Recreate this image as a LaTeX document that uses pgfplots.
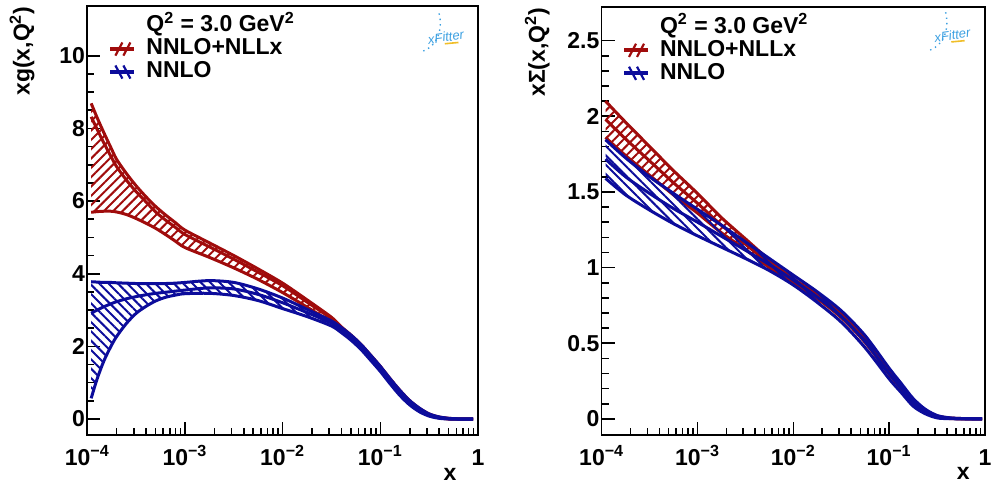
\documentclass[border=0pt]{standalone}
\usepackage{fontspec}
\setmainfont{Liberation Sans}
\usepackage{pgfplots}
\pgfplotsset{compat=1.18}
\usepackage{pgfplotstable}
\usetikzlibrary{patterns.meta}

\definecolor{myred}{RGB}{160,12,12}
\definecolor{myblue}{RGB}{12,12,155}
\definecolor{logoblue}{RGB}{60,160,225}
\definecolor{logoyel}{RGB}{240,190,40}
\newcommand\F{\fontsize{11.5}{11.5}\selectfont\bfseries}

% gluon: x, NNLO+NLLx (up, central, low), NNLO (up, central, low)
\pgfplotstableread{
x ru rc rl bu bc bl
1.096e-4 8.69 8.32 5.69 3.78 2.91 0.57
1.259e-4 8.30 7.98 5.71 3.77 3.00 1.10
1.479e-4 7.88 7.60 5.72 3.76 3.09 1.60
1.738e-4 7.48 7.24 5.72 3.76 3.17 1.99
1.995e-4 7.15 6.95 5.70 3.75 3.23 2.27
2.512e-4 6.76 6.58 5.63 3.74 3.31 2.63
3.162e-4 6.42 6.26 5.52 3.73 3.37 2.91
3.981e-4 6.12 5.98 5.39 3.73 3.42 3.10
5.012e-4 5.85 5.70 5.25 3.73 3.46 3.25
6.310e-4 5.62 5.48 5.08 3.73 3.49 3.35
7.943e-4 5.41 5.28 4.90 3.74 3.52 3.41
1.000e-3 5.20 5.08 4.72 3.76 3.55 3.45
1.778e-3 4.85 4.74 4.45 3.81 3.61 3.46
3.162e-3 4.50 4.40 4.16 3.76 3.58 3.40
5.623e-3 4.13 4.04 3.84 3.58 3.43 3.26
1.000e-2 3.74 3.67 3.48 3.33 3.20 3.04
1.778e-2 3.28 3.22 3.08 3.02 2.93 2.82
3.162e-2 2.80 2.76 2.66 2.70 2.64 2.56
3.981e-2 2.54 2.49 2.44 2.52 2.45 2.38
5.012e-2 2.31 2.26 2.21 2.31 2.24 2.17
6.310e-2 2.06 2.01 1.96 2.06 1.99 1.92
7.943e-2 1.76 1.71 1.66 1.76 1.69 1.62
0.1000 1.45 1.40 1.35 1.45 1.38 1.31
0.1259 1.11 1.06 1.01 1.11 1.04 0.97
0.1585 0.79 0.74 0.69 0.79 0.72 0.65
0.1995 0.51 0.47 0.43 0.51 0.45 0.39
0.2512 0.295 0.265 0.235 0.30 0.25 0.20
0.3162 0.14 0.12 0.10 0.14 0.11 0.08
0.3981 0.055 0.045 0.035 0.06 0.04 0.02
0.5012 0.02 0.01 0.0 0.02 0.01 0.0
0.6310 0.005 0.0 -0.005 0.005 0.0 -0.005
0.7943 0.005 0.0 -0.005 0.005 0.0 -0.005
0.8913 0.005 0.0 -0.005 0.005 0.0 -0.005
}\gtab

% gluon bands as closed outlines (upper edge forward, lower edge back)
\pgfplotstableread{
x y
1.096e-4 8.69
1.259e-4 8.30
1.479e-4 7.88
1.738e-4 7.48
1.995e-4 7.15
2.512e-4 6.76
3.162e-4 6.42
3.981e-4 6.12
5.012e-4 5.85
6.310e-4 5.62
7.943e-4 5.41
1.000e-3 5.20
1.778e-3 4.85
3.162e-3 4.50
5.623e-3 4.13
1.000e-2 3.74
1.778e-2 3.28
3.162e-2 2.80
3.981e-2 2.54
5.012e-2 2.31
6.310e-2 2.06
7.943e-2 1.76
0.1000 1.45
0.1259 1.11
0.1585 0.79
0.1995 0.51
0.2512 0.295
0.3162 0.14
0.3162 0.10
0.2512 0.235
0.1995 0.43
0.1585 0.69
0.1259 1.01
0.1000 1.35
7.943e-2 1.66
6.310e-2 1.96
5.012e-2 2.21
3.981e-2 2.44
3.162e-2 2.66
1.778e-2 3.08
1.000e-2 3.48
5.623e-3 3.84
3.162e-3 4.16
1.778e-3 4.45
1.000e-3 4.72
7.943e-4 4.90
6.310e-4 5.08
5.012e-4 5.25
3.981e-4 5.39
3.162e-4 5.52
2.512e-4 5.63
1.995e-4 5.70
1.738e-4 5.72
1.479e-4 5.72
1.259e-4 5.71
1.096e-4 5.69
}\gredband

\pgfplotstableread{
x y
1.096e-4 3.78
1.259e-4 3.77
1.479e-4 3.76
1.738e-4 3.76
1.995e-4 3.75
2.512e-4 3.74
3.162e-4 3.73
3.981e-4 3.73
5.012e-4 3.73
6.310e-4 3.73
7.943e-4 3.74
1.000e-3 3.76
1.778e-3 3.81
3.162e-3 3.76
5.623e-3 3.58
1.000e-2 3.33
1.778e-2 3.02
3.162e-2 2.70
3.981e-2 2.52
5.012e-2 2.31
6.310e-2 2.06
7.943e-2 1.76
0.1000 1.45
0.1259 1.11
0.1585 0.79
0.1995 0.51
0.2512 0.30
0.3162 0.14
0.3162 0.08
0.2512 0.20
0.1995 0.39
0.1585 0.65
0.1259 0.97
0.1000 1.31
7.943e-2 1.62
6.310e-2 1.92
5.012e-2 2.17
3.981e-2 2.38
3.162e-2 2.56
1.778e-2 2.82
1.000e-2 3.04
5.623e-3 3.26
3.162e-3 3.40
1.778e-3 3.46
1.000e-3 3.45
7.943e-4 3.41
6.310e-4 3.35
5.012e-4 3.25
3.981e-4 3.10
3.162e-4 2.91
2.512e-4 2.63
1.995e-4 2.27
1.738e-4 1.99
1.479e-4 1.60
1.259e-4 1.10
1.096e-4 0.57
}\gblueband

% singlet
\pgfplotstableread{
x ru rc rl bu bc bl
1.096e-4 2.10 1.98 1.86 1.845 1.717 1.59
1.778e-4 1.96 1.85 1.74 1.725 1.60 1.48
3.162e-4 1.80 1.705 1.61 1.60 1.49 1.38
5.623e-4 1.64 1.56 1.48 1.49 1.39 1.29
1.000e-3 1.49 1.425 1.36 1.385 1.30 1.21
1.778e-3 1.33 1.28 1.23 1.28 1.207 1.135
3.162e-3 1.19 1.155 1.12 1.17 1.115 1.06
5.623e-3 1.05 1.025 1.00 1.06 1.02 0.98
1.000e-2 0.925 0.91 0.895 0.95 0.917 0.885
1.778e-2 0.825 0.81 0.795 0.84 0.805 0.77
3.162e-2 0.70 0.685 0.67 0.715 0.677 0.64
5.623e-2 0.535 0.52 0.505 0.55 0.51 0.47
0.1000 0.325 0.31 0.295 0.335 0.30 0.265
0.1334 0.225 0.213 0.20 0.235 0.205 0.175
0.1778 0.125 0.116 0.107 0.135 0.11 0.085
0.2371 0.06 0.054 0.048 0.065 0.05 0.035
0.3162 0.02 0.017 0.014 0.023 0.015 0.007
0.4217 0.007 0.005 0.003 0.008 0.005 0.002
0.5623 0.003 0.002 0.001 0.003 0.002 0.001
0.7943 0.001 0.0 0.0 0.001 0.0 0.0
0.9333 0.001 0.0 0.0 0.001 0.0 0.0
}\stab

\pgfplotstableread{
x y
1.096e-4 2.10
1.778e-4 1.96
3.162e-4 1.80
5.623e-4 1.64
1.000e-3 1.49
1.778e-3 1.33
3.162e-3 1.19
5.623e-3 1.05
1.000e-2 0.925
1.778e-2 0.825
3.162e-2 0.70
5.623e-2 0.535
0.1000 0.325
0.1334 0.225
0.1778 0.125
0.2371 0.06
0.3162 0.02
0.3162 0.014
0.2371 0.048
0.1778 0.107
0.1334 0.20
0.1000 0.295
5.623e-2 0.505
3.162e-2 0.67
1.778e-2 0.795
1.000e-2 0.895
5.623e-3 1.00
3.162e-3 1.12
1.778e-3 1.23
1.000e-3 1.36
5.623e-4 1.48
3.162e-4 1.61
1.778e-4 1.74
1.096e-4 1.86
}\sredband

\pgfplotstableread{
x y
1.096e-4 1.845
1.778e-4 1.725
3.162e-4 1.60
5.623e-4 1.49
1.000e-3 1.385
1.778e-3 1.28
3.162e-3 1.17
5.623e-3 1.06
1.000e-2 0.95
1.778e-2 0.84
3.162e-2 0.715
5.623e-2 0.55
0.1000 0.335
0.1334 0.235
0.1778 0.135
0.2371 0.065
0.3162 0.023
0.3162 0.007
0.2371 0.035
0.1778 0.085
0.1334 0.175
0.1000 0.265
5.623e-2 0.47
3.162e-2 0.64
1.778e-2 0.77
1.000e-2 0.885
5.623e-3 0.98
3.162e-3 1.06
1.778e-3 1.135
1.000e-3 1.21
5.623e-4 1.29
3.162e-4 1.38
1.778e-4 1.48
1.096e-4 1.59
}\sblueband

\pgfplotsset{
  legred/.style={legend image code/.code={
    \draw[myred, line width=2pt] (0pt,0pt) -- (12pt,0pt);
    \draw[myred, line width=1.1pt] (2.5pt,-3.3pt) -- (6pt,3.3pt);
    \draw[myred, line width=1.1pt] (6.5pt,-3.3pt) -- (10pt,3.3pt);}},
  legblue/.style={legend image code/.code={
    \draw[myblue, line width=2pt] (0pt,0pt) -- (12pt,0pt);
    \draw[myblue, line width=1.1pt] (2.5pt,3.3pt) -- (6pt,-3.3pt);
    \draw[myblue, line width=1.1pt] (6.5pt,3.3pt) -- (10pt,-3.3pt);}},
}

\begin{document}
\begin{tikzpicture}

% ---------------- left: gluon ----------------
\begin{axis}[
  at={(43.65pt,24pt)}, anchor=south west, width=195.35pt, height=214.5pt,
  scale only axis, xmode=log, xmin=1e-4, xmax=1,
  xtick={1e-4,1e-3,1e-2,1e-1,1},
  xticklabels={10\textsuperscript{−4},10\textsuperscript{−3},10\textsuperscript{−2},10\textsuperscript{−1},1},
  minor xtick={2e-4,3e-4,4e-4,5e-4,6e-4,7e-4,8e-4,9e-4,2e-3,3e-3,4e-3,5e-3,6e-3,7e-3,8e-3,9e-3,2e-2,3e-2,4e-2,5e-2,6e-2,7e-2,8e-2,9e-2,0.2,0.3,0.4,0.5,0.6,0.7,0.8,0.9},
  tick pos=left, tick align=inside,
  major tick length=6.5pt, minor tick length=3.5pt,
  every tick/.style={black, line width=0.8pt},
  axis line style={line width=0.8pt},
  ticklabel style={font=\F},
  xticklabel style={anchor=base, yshift=-15pt},
  yticklabel style={inner xsep=1pt},
  label style={font=\F},
  xlabel={x},
  legend cell align=left,
  legend style={draw=none, fill=none, font=\F, inner sep=0pt, row sep=0pt,
    nodes={inner xsep=5pt, inner ysep=0pt, text height=8.6pt, text depth=2.9pt}},
  ymin=-0.44, ymax=11.37, ytick={0,2,4,6,8,10}, minor y tick num=3,
  ylabel={xg(x,Q\textsuperscript{2})},
  xlabel style={at={(axis description cs:0.946,-0.1049)}, anchor=base east, inner sep=0pt},
  ylabel style={at={(axis description cs:-0.134,1)}, anchor=south east, inner sep=0pt},
  legend style={at={(axis description cs:0.053,0.981)}, anchor=north west},
  /pgf/number format/assume math mode=true,
]
\addlegendimage{empty legend}\addlegendentry{Q\textsuperscript{2} = 3.0 GeV\textsuperscript{2}}
\addlegendimage{legred}\addlegendentry{NNLO+NLLx}
\addlegendimage{legblue}\addlegendentry{NNLO}

\addplot[draw=none, pattern={Lines[angle=45,distance=3.3pt,line width=1pt]}, pattern color=myred, forget plot] table[x=x,y=y]{\gredband};
\addplot[myred, line width=1.5pt, smooth, forget plot] table[x=x,y=ru]{\gtab};
\addplot[myred, line width=1.5pt, smooth, forget plot] table[x=x,y=rc]{\gtab};
\addplot[myred, line width=1.5pt, smooth, forget plot] table[x=x,y=rl]{\gtab};

\addplot[draw=none, pattern={Lines[angle=-45,distance=3.3pt,line width=1pt]}, pattern color=myblue, forget plot] table[x=x,y=y]{\gblueband};
\addplot[myblue, line width=1.5pt, smooth, forget plot] table[x=x,y=bu]{\gtab};
\addplot[myblue, line width=1.5pt, smooth, forget plot] table[x=x,y=bc]{\gtab};
\addplot[myblue, line width=1.5pt, smooth, forget plot] table[x=x,y=bl]{\gtab};

\node[logoblue, font=\fontsize{6.5}{6.5}\selectfont\itshape, rotate=8, inner sep=0pt] at (axis description cs:0.918,0.928) {xFitter};
\draw[logoyel, line width=0.8pt] (axis description cs:0.915,0.912) -- (axis description cs:0.95,0.915);
\draw[logoblue, dotted, line width=0.7pt] (axis description cs:0.86,0.895) .. controls (axis description cs:0.9,0.91) and (axis description cs:0.91,0.95) .. (axis description cs:0.9,0.985);
\end{axis}

% ---------------- right: singlet ----------------
\begin{axis}[
  at={(300.85pt,24pt)}, anchor=south west, width=191.65pt, height=213.85pt,
  scale only axis, xmode=log, xmin=1e-4, xmax=1,
  xtick={1e-4,1e-3,1e-2,1e-1,1},
  xticklabels={10\textsuperscript{−4},10\textsuperscript{−3},10\textsuperscript{−2},10\textsuperscript{−1},1},
  minor xtick={2e-4,3e-4,4e-4,5e-4,6e-4,7e-4,8e-4,9e-4,2e-3,3e-3,4e-3,5e-3,6e-3,7e-3,8e-3,9e-3,2e-2,3e-2,4e-2,5e-2,6e-2,7e-2,8e-2,9e-2,0.2,0.3,0.4,0.5,0.6,0.7,0.8,0.9},
  tick pos=left, tick align=inside,
  major tick length=6.5pt, minor tick length=3.5pt,
  every tick/.style={black, line width=0.8pt},
  axis line style={line width=0.8pt},
  ticklabel style={font=\F},
  xticklabel style={anchor=base, yshift=-15pt},
  yticklabel style={inner xsep=1pt},
  label style={font=\F},
  xlabel={x},
  legend cell align=left,
  legend style={draw=none, fill=none, font=\F, inner sep=0pt, row sep=0pt,
    nodes={inner xsep=5pt, inner ysep=0pt, text height=8.6pt, text depth=2.9pt}},
  ymin=-0.106, ymax=2.72, ytick={0,0.5,1,1.5,2,2.5}, minor y tick num=4,
  ylabel={xΣ(x,Q\textsuperscript{2})},
  xlabel style={at={(axis description cs:0.961,-0.105)}, anchor=base east, inner sep=0pt},
  ylabel style={at={(axis description cs:-0.135,1)}, anchor=south east, inner sep=0pt},
  legend style={at={(axis description cs:0.052,0.981)}, anchor=north west},
  /pgf/number format/assume math mode=true,
]
\addlegendimage{empty legend}\addlegendentry{Q\textsuperscript{2} = 3.0 GeV\textsuperscript{2}}
\addlegendimage{legred}\addlegendentry{NNLO+NLLx}
\addlegendimage{legblue}\addlegendentry{NNLO}

\addplot[draw=none, pattern={Lines[angle=45,distance=3.3pt,line width=1pt]}, pattern color=myred, forget plot] table[x=x,y=y]{\sredband};
\addplot[myred, line width=1.5pt, smooth, forget plot] table[x=x,y=ru]{\stab};
\addplot[myred, line width=1.5pt, smooth, forget plot] table[x=x,y=rc]{\stab};
\addplot[myred, line width=1.5pt, smooth, forget plot] table[x=x,y=rl]{\stab};

\addplot[draw=none, pattern={Lines[angle=-45,distance=3.3pt,line width=1pt]}, pattern color=myblue, forget plot] table[x=x,y=y]{\sblueband};
\addplot[myblue, line width=1.5pt, smooth, forget plot] table[x=x,y=bu]{\stab};
\addplot[myblue, line width=1.5pt, smooth, forget plot] table[x=x,y=bc]{\stab};
\addplot[myblue, line width=1.5pt, smooth, forget plot] table[x=x,y=bl]{\stab};

\node[logoblue, font=\fontsize{6.5}{6.5}\selectfont\itshape, rotate=8, inner sep=0pt] at (axis description cs:0.915,0.935) {xFitter};
\draw[logoyel, line width=0.8pt] (axis description cs:0.912,0.919) -- (axis description cs:0.947,0.922);
\draw[logoblue, dotted, line width=0.7pt] (axis description cs:0.857,0.9) .. controls (axis description cs:0.897,0.915) and (axis description cs:0.907,0.955) .. (axis description cs:0.897,0.99);
\end{axis}

\pgfresetboundingbox
\useasboundingbox (0,0) rectangle (496pt,241.5pt);
\end{tikzpicture}
\end{document}
